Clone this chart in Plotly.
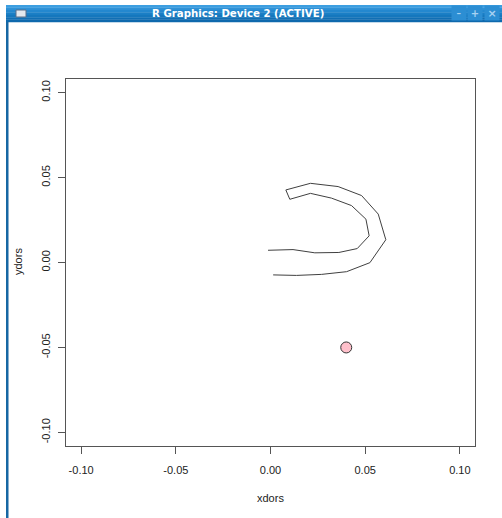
import plotly.graph_objects as go

# data
xdors = [-0.0013, 0.0119, 0.0234, 0.0361, 0.0458, 0.0521, 0.0504, 0.0428, 0.0322, 0.0211,
         0.0102, 0.0081, 0.0211, 0.0357, 0.0481, 0.0569, 0.0609, 0.0525, 0.0402, 0.0270,
         0.0137, 0.0014]
ydors = [0.0072, 0.0076, 0.0057, 0.0059, 0.0082, 0.0157, 0.0255, 0.0335, 0.0379, 0.0407,
         0.0372, 0.0427, 0.0466, 0.0447, 0.0394, 0.0285, 0.0134, -0.0001, -0.0054, -0.0070,
         -0.0076, -0.0073]
point_x = [0.04]
point_y = [-0.05]
tick_vals = [-0.10, -0.05, 0.00, 0.05, 0.10]
tick_text = ["-0.10", "-0.05", "0.00", "0.05", "0.10"]
window_title = "R Graphics: Device 2 (ACTIVE)"

W, H = 502, 518
def px(x):
    return x / W
def py(y):
    return 1 - y / H

FONT = "Liberation Sans, Arial, sans-serif"
AXC = "#555555"

fig = go.Figure()
fig.add_trace(go.Scatter(x=xdors, y=ydors, mode="lines",
                         line=dict(color="#404040", width=1), hoverinfo="skip"))
fig.add_trace(go.Scatter(x=point_x, y=point_y, mode="markers",
                         marker=dict(size=11, color="#FFC0CB",
                                     line=dict(color="#333333", width=1)),
                         hoverinfo="skip"))

axis_common = dict(
    range=[-0.108, 0.108], tickvals=tick_vals, ticktext=tick_text,
    showgrid=False, zeroline=False, showline=True, linecolor=AXC, linewidth=1,
    mirror=True, ticks="outside", ticklen=7, tickcolor=AXC, tickwidth=1,
    tickfont=dict(family=FONT, size=11, color="#222222"), automargin=False,
)
fig.update_xaxes(**axis_common, domain=[px(66), px(475)], ticklabelstandoff=7)
fig.update_yaxes(**axis_common, domain=[py(446), py(79)], tickangle=-90,
                 ticklabelstandoff=4)

shapes = []
# title bar gradient strips
bar_top, bar_bot = 5, 22
cols = ["#3c9ee0", "#2f92d7", "#2488cf", "#1b7fc6", "#1577bd", "#116fb4", "#0e69ad"]
n = len(cols)
for i, c in enumerate(cols):
    y0 = bar_top + (bar_bot - bar_top) * i / n
    y1 = bar_top + (bar_bot - bar_top) * (i + 1) / n
    shapes.append(dict(type="rect", xref="paper", yref="paper",
                       x0=px(6), x1=px(502), y0=py(y1 + 0.3), y1=py(y0),
                       fillcolor=c, line=dict(width=0)))
# left border
shapes.append(dict(type="rect", xref="paper", yref="paper",
                   x0=px(6), x1=px(8.5), y0=py(518), y1=py(22),
                   fillcolor="#1667a3", line=dict(width=0)))
# window icon
shapes.append(dict(type="rect", xref="paper", yref="paper",
                   x0=px(16), x1=px(26), y0=py(17), y1=py(10),
                   fillcolor="#e4e8ee", line=dict(color="#5a6f8a", width=1)))

annotations = [
    dict(text="<b>" + window_title + "</b>", xref="paper", yref="paper",
         x=px(238), y=py(13.5), showarrow=False, xanchor="center", yanchor="middle",
         font=dict(family="DejaVu Sans, sans-serif", size=10.2, color="white")),
    dict(text="xdors", xref="paper", yref="paper", x=px(270), y=py(498),
         showarrow=False, xanchor="center", yanchor="middle",
         font=dict(family=FONT, size=11, color="#222222")),
    dict(text="ydors", xref="paper", yref="paper", x=px(18), y=py(262),
         showarrow=False, xanchor="center", yanchor="middle", textangle=-90,
         font=dict(family=FONT, size=11, color="#222222")),
]
# window buttons as boxed annotations
for glyph, cx, fs in [("<b>–</b>", 459, 9), ("<b>+</b>", 475, 10), ("<b>×</b>", 491.5, 11)]:
    annotations.append(dict(text=glyph, xref="paper", yref="paper", x=px(cx), y=py(12.8),
                            showarrow=False, xanchor="center", yanchor="middle",
                            width=14, height=14, bgcolor="#2c8ed3", borderpad=0,
                            font=dict(family="DejaVu Sans", size=fs, color="#a8d2f2")))

fig.update_layout(
    width=W, height=H, margin=dict(l=0, r=0, t=0, b=0),
    paper_bgcolor="white", plot_bgcolor="white", showlegend=False,
    shapes=shapes, annotations=annotations,
)
fig.write_html(
    "out.html",
    config={"displayModeBar": False},
    post_script="document.body.style.margin='0';document.body.style.overflow='hidden';",
)
